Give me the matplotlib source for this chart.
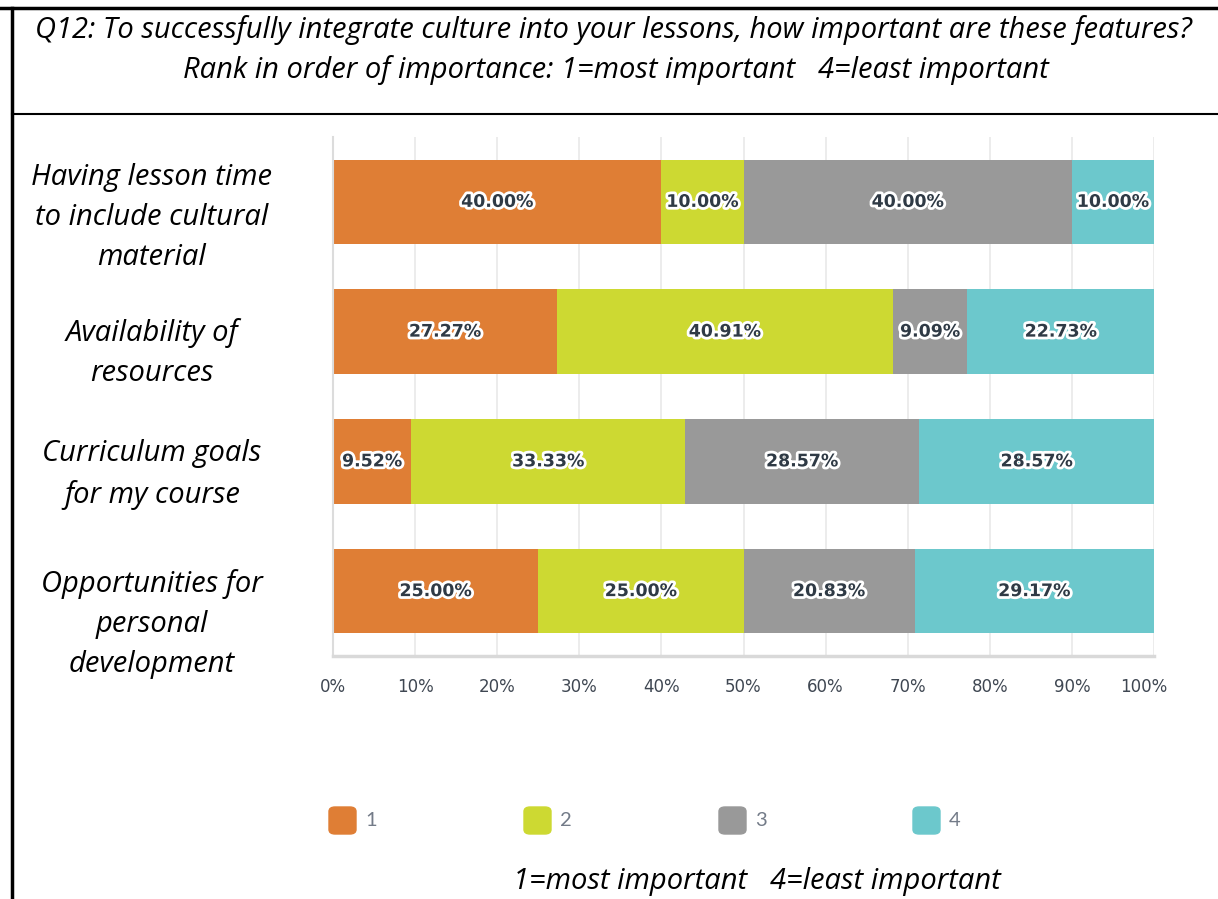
import numpy as np
import matplotlib
matplotlib.use("Agg")
import matplotlib.pyplot as plt
import matplotlib.patheffects as pe
import matplotlib.transforms as mtransforms
from matplotlib.lines import Line2D
from matplotlib.patches import FancyBboxPatch

features = [
    "Having lesson time\nto include cultural\nmaterial",
    "Availability of\nresources",
    "Curriculum goals\nfor my course",
    "Opportunities for\npersonal\ndevelopment",
]
ranks = ["1", "2", "3", "4"]
rank1 = [40.00, 27.27, 9.52, 25.00]
rank2 = [10.00, 40.91, 33.33, 25.00]
rank3 = [40.00, 9.09, 28.57, 20.83]
rank4 = [10.00, 22.73, 28.57, 29.17]
xticks = [0, 10, 20, 30, 40, 50, 60, 70, 80, 90, 100]

colors = ["#DF7E35", "#CDD932", "#999999", "#6CC8CC"]
label_offsets = [16, 21, 13, 33]  # px, category labels sit a bit low in the source

fig = plt.figure(figsize=(12.18, 8.99), dpi=100)
ax = fig.add_axes([333 / 1218, 1 - 656 / 899, 821 / 1218, 519 / 899])

y = np.arange(len(features))
left = np.zeros(len(features))
for vals, c in zip([rank1, rank2, rank3, rank4], colors):
    vals = np.asarray(vals)
    ax.barh(y, vals, left=left, height=0.65, color=c, zorder=2)
    for yi, (l, v) in enumerate(zip(left, vals)):
        ax.text(l + v / 2, yi, f"{v:.2f}%", ha="center", va="center",
                fontsize=12.5, fontfamily="DejaVu Sans", fontweight="bold", color="#2f3a45",
                path_effects=[pe.withStroke(linewidth=4, foreground="white")], zorder=3)
    left += vals

ax.set_xlim(0, 100)
ax.set_ylim(3.5, -0.5)
ax.set_xticks(xticks)
ax.set_xticklabels([f"{t}%" for t in xticks], fontsize=12, fontfamily="DejaVu Sans", color="#3f4752")
ax.set_yticks([])
ax.tick_params(axis="x", length=0, pad=16)
# last tick label is pulled inside a bit in the source
last = ax.get_xticklabels()[-1]
last.set_transform(last.get_transform() + mtransforms.ScaledTranslation(-10 / 100, 0, fig.dpi_scale_trans))
ax.grid(True, axis="x", color="#e9e9e9", lw=1.2, zorder=0)
for s in ["top", "right"]:
    ax.spines[s].set_visible(False)
ax.spines["left"].set_color("#dcdcdc")
ax.spines["left"].set_linewidth(1.5)
ax.spines["bottom"].set_color("#d9d9d9")
ax.spines["bottom"].set_linewidth(2.5)

trans = ax.get_yaxis_transform()
for yi, (name, off) in enumerate(zip(features, label_offsets)):
    ax.annotate(name, xy=(-0.2205, yi), xycoords=trans, xytext=(0, -off * 0.72),
                textcoords="offset points", ha="center", va="center",
                fontsize=21, style="italic", fontfamily="Open Sans",
                linespacing=1.5, color="black")

# title box
fig.text(0.504, 1 - 30 / 899, "Q12: To successfully integrate culture into your lessons, how important are these features?",
         ha="center", va="center", fontsize=21, style="italic", fontfamily="Open Sans")
fig.text(0.506, 1 - 70 / 899, "Rank in order of importance: 1=most important   4=least important",
         ha="center", va="center", fontsize=21, style="italic", fontfamily="Open Sans")
fig.add_artist(Line2D([0, 1], [1 - 8 / 899] * 2, color="black", lw=2.5))
fig.add_artist(Line2D([11.5 / 1218] * 2, [0, 1 - 8 / 899], color="black", lw=2.5))
fig.add_artist(Line2D([11.5 / 1218, 1], [1 - 114 / 899] * 2, color="black", lw=1.5))

# legend
leg_x = [329, 524, 719, 913]
for lx, c, r in zip(leg_x, colors, ranks):
    fig.add_artist(FancyBboxPatch((lx / 1218, 1 - 834 / 899), 27 / 1218, 27 / 899,
                                  boxstyle="round,pad=0,rounding_size=0.005",
                                  transform=fig.transFigure, color=c))
    fig.text((lx + 36) / 1218, 1 - 821 / 899, r, ha="left", va="center",
             fontsize=14.5, fontfamily="Lato", color="#737b88")

fig.text(757 / 1218, 1 - 882 / 899, "1=most important   4=least important",
         ha="center", va="center", fontsize=21, style="italic", fontfamily="Open Sans")

fig.savefig("out.png", dpi=100)
